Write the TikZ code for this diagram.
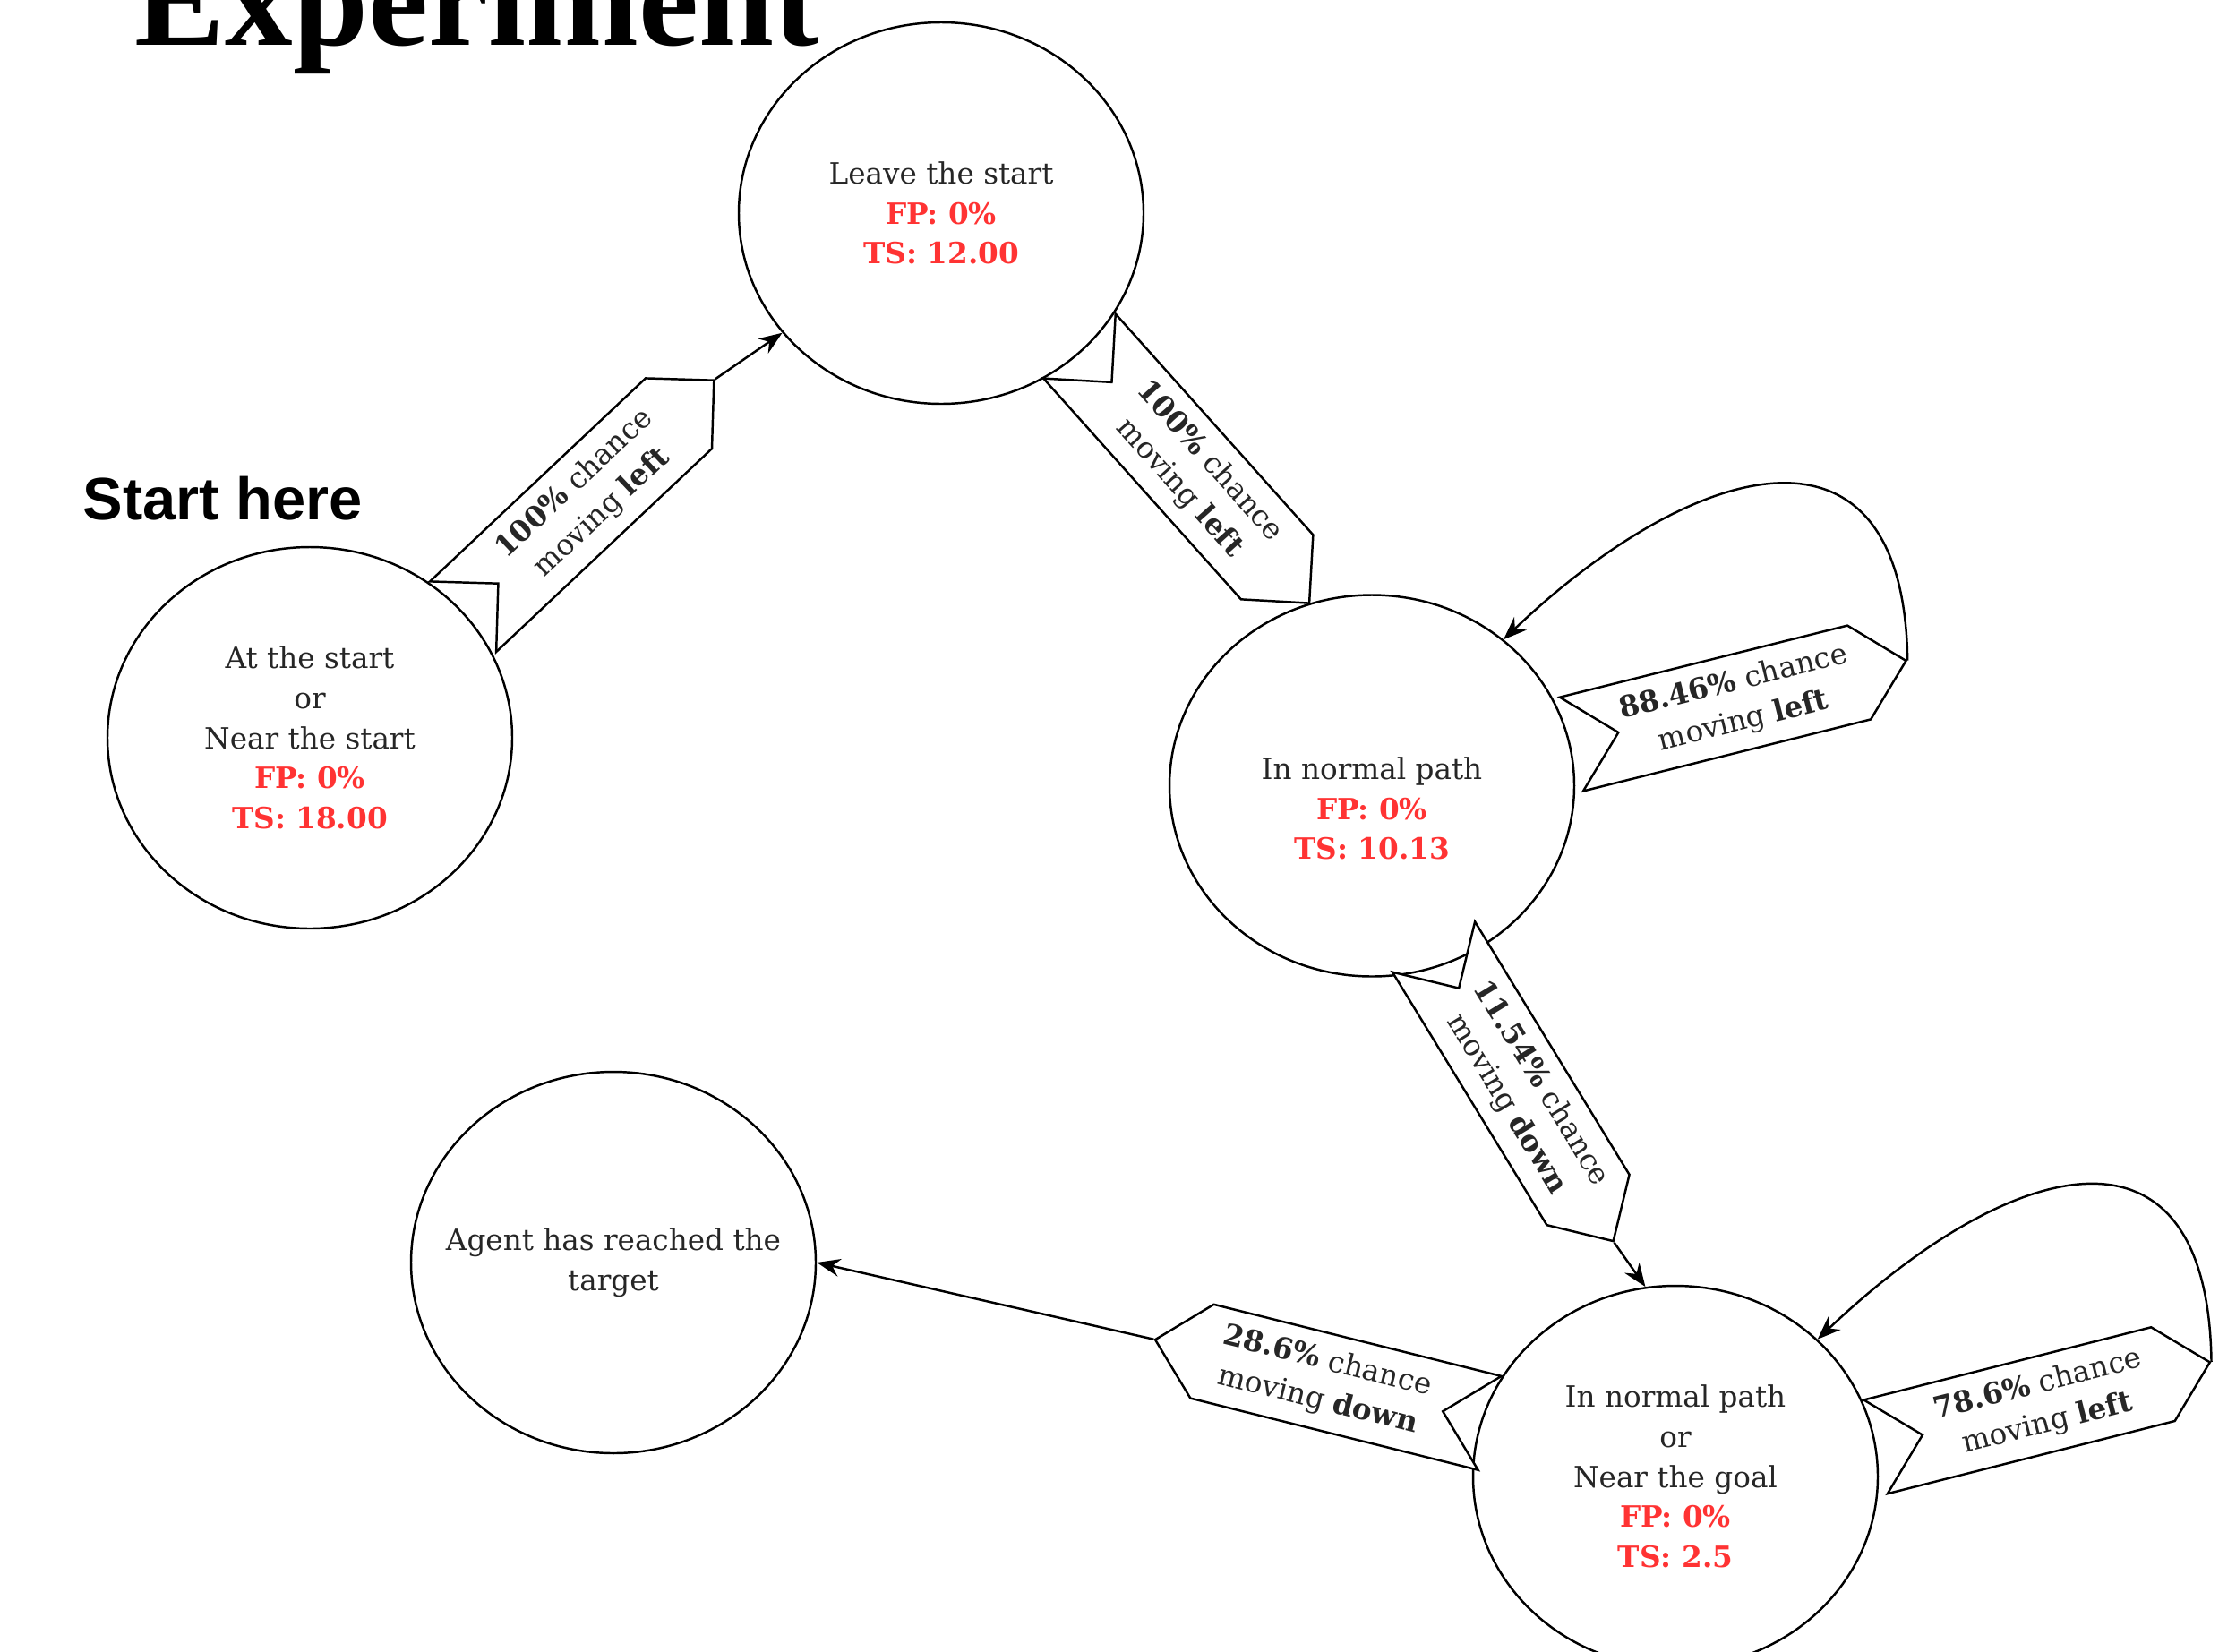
\documentclass[tikz,border=0pt]{standalone}
\usepackage{fontspec}
\setmainfont{DejaVu Serif}
\newfontfamily\titlefont{Liberation Serif}
\newfontfamily\headfont{Liberation Sans}
\usetikzlibrary{shapes.geometric,shapes.symbols,arrows.meta}

\definecolor{fpred}{RGB}{255,51,51}
\newcommand{\fpts}[2]{\textcolor{fpred}{\bfseries FP: #1}\\\textcolor{fpred}{\bfseries TS: #2}}

\tikzset{
  state/.style={draw, ellipse, minimum width=4.52cm, minimum height=4.26cm,
    inner sep=0pt, align=center, text=black!85, line width=0.7pt,
    font=\fontsize{9.3}{12.7}\selectfont},
  chance/.style={draw, fill=white, shape=signal, signal pointer angle=90,
    signal from=west, signal to=east, minimum height=1.08cm, minimum width=3.85cm,
    inner sep=0pt, align=center, text=black!85, line width=0.7pt,
    font=\fontsize{9.3}{12.7}\selectfont},
  move/.style={-{Stealth[length=2.6mm,width=2mm]}, line width=0.7pt},
}

\begin{document}
\begin{tikzpicture}
  \useasboundingbox (0,0) rectangle (24.97,-18.44);
  \node[anchor=base west, inner sep=0pt, font=\titlefont\bfseries\fontsize{43}{43}\selectfont]
    (title) at (1.50,-0.50) {Experiment};
  \node[anchor=base west, inner sep=0pt, font=\headfont\bfseries\fontsize{19}{19}\selectfont]
    (starthere) at (0.92,-5.80) {Start here};

  % states
  \node[state] (start)  at ( 3.46, -8.24) {At the start\\or\\Near the start\\\fpts{0\%}{18.00}};
  \node[state] (leave)  at (10.51, -2.38) {Leave the start\\\fpts{0\%}{12.00}};
  \node[state] (normal) at (15.32, -8.775) {\rule{0pt}{0.76cm}In normal path\\\fpts{0\%}{10.13}};
  \node[state, inner xsep=-0.5cm] (target) at ( 6.85,-14.10) {Agent has reached the\\target};
  \node[state] (goal)   at (18.71,-16.49) {In normal path\\or\\Near the goal\\\fpts{0\%}{2.5}};

  % chances
  \node[chance, rotate=43.3]  (l1) at ( 6.572, -5.567) {\textbf{100\%} chance\\moving \textbf{left}};
  \node[chance, rotate=-48.2] (l2) at (13.338, -5.301) {\textbf{100\%} chance\\moving \textbf{left}};
  \node[chance, rotate=14]    (l3) at (19.417, -7.845) {\textbf{88.46\%} chance\\moving \textbf{left}};
  \node[chance, rotate=-58.6] (l4) at (17.013,-12.218) {\textbf{11.54\%} chance\\moving \textbf{down}};
  \node[chance, rotate=-14, signal from=east, signal to=west]
                              (l5) at (14.768,-15.427) {\textbf{28.6\%} chance\\moving \textbf{down}};
  \node[chance, rotate=14.2]  (l6) at (22.812,-15.686) {\textbf{78.6\%} chance\\moving \textbf{left}};

  \draw[move] (l1.east) -- (leave.217);
  \draw[move] (l3.east) .. controls +(-0.04,2.94) and +(2.09,1.99) .. (normal.48);
  \draw[move] (l4.east) -- (goal.99);
  \draw[move] (l5.west) -- (target.0);
  \draw[move] (l6.east) .. controls +(-0.04,2.94) and +(2.09,1.99) .. (goal.44);
\end{tikzpicture}
\end{document}
